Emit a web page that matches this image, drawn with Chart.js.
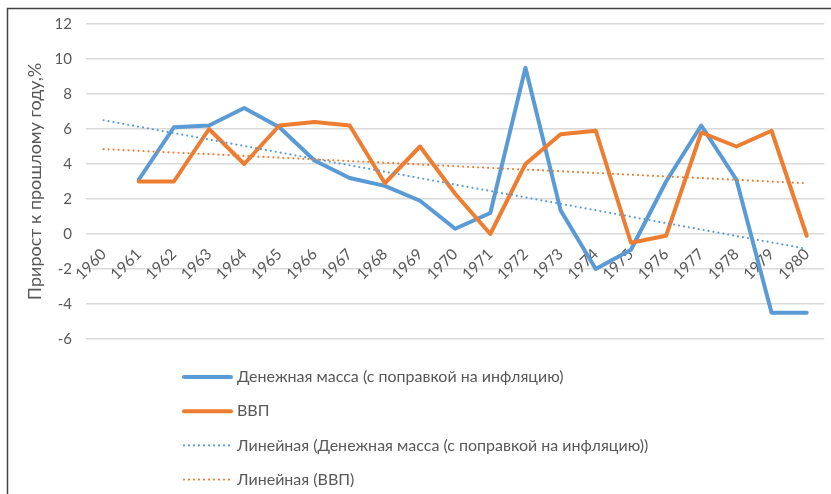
<!DOCTYPE html>
<html>
<head>
<meta charset="utf-8">
<script src="https://cdn.jsdelivr.net/npm/chart.js@4/dist/chart.umd.min.js"></script>
<style>
html,body{margin:0;padding:0;background:#fff;}
#wrap{width:831px;height:494px;position:relative;}
</style>
</head>
<body>
<div id="wrap"><canvas id="c" width="831" height="494"></canvas></div>
<script>
// ---- data ----
const years = ['1960','1961','1962','1963','1964','1965','1966','1967','1968','1969','1970',
               '1971','1972','1973','1974','1975','1976','1977','1978','1979','1980'];
const moneySupply = [null, 3.1, 6.1, 6.2, 7.2, 6.1, 4.2, 3.2, 2.75, 1.9, 0.3,
                     1.2, 9.5, 1.35, -2.0, -0.9, 3.0, 6.2, 3.1, -4.5, -4.5];
const gdp = [null, 3.0, 3.0, 6.0, 4.0, 6.2, 6.4, 6.2, 2.9, 5.0, 2.3,
             0.0, 4.0, 5.7, 5.9, -0.5, -0.1, 5.8, 5.0, 5.9, -0.1];
// trend lines: end points (straight lines between them)
const moneyTrend = [6.5, null, null, null, null, null, null, null, null, null, null,
                    null, null, null, null, null, null, null, null, null, -0.85];
const gdpTrend = [4.85, null, null, null, null, null, null, null, null, null, null,
                  null, null, null, null, null, null, null, null, null, 2.9];
const seriesNames = [
  'Денежная масса (с поправкой на инфляцию)',
  'ВВП',
  'Линейная (Денежная масса (с поправкой на инфляцию))',
  'Линейная (ВВП)'
];
const yMin = -6, yMax = 12, yStep = 2;
const yTitle = 'Прирост к прошлому году,%';

const BLUE = '#5B9BD5', ORANGE = '#ED7D31', TXT = '#595959';
const FONT = 'Lato';

const framePlugin = {
  id: 'frame',
  beforeDraw(chart) {
    const ctx = chart.ctx;
    ctx.save();
    ctx.fillStyle = '#fff';
    ctx.fillRect(0, 0, chart.width, chart.height);
    ctx.strokeStyle = '#404040';
    ctx.lineWidth = 1.5;
    ctx.beginPath();
    ctx.moveTo(7.5, chart.height);
    ctx.lineTo(7.5, 8.5);
    ctx.lineTo(chart.width, 8.5);
    ctx.stroke();
    ctx.restore();
  }
};

const legendPlugin = {
  id: 'vlegend',
  afterDraw(chart) {
    const ctx = chart.ctx;
    ctx.save();
    ctx.font = '16px ' + FONT;
    ctx.fillStyle = TXT;
    ctx.textBaseline = 'middle';
    ctx.textAlign = 'left';
    chart.data.datasets.forEach((ds, i) => {
      const y = 377 + i * 34.2;
      ctx.strokeStyle = ds.borderColor;
      ctx.lineWidth = ds.borderDash ? 2.2 : 4;
      ctx.lineCap = 'round';
      ctx.setLineDash(ds.borderDash || []);
      ctx.beginPath();
      ctx.moveTo(184, y);
      ctx.lineTo(231, y);
      ctx.stroke();
      ctx.setLineDash([]);
      ctx.fillText(ds.label, 237, y);
    });
    ctx.restore();
  }
};

new Chart(document.getElementById('c'), {
  type: 'line',
  data: {
    labels: years,
    datasets: [
      { label: seriesNames[0], data: moneySupply, borderColor: BLUE, backgroundColor: BLUE,
        borderWidth: 4, pointRadius: 0, tension: 0, borderJoinStyle: 'round', borderCapStyle: 'round', order: 4 },
      { label: seriesNames[1], data: gdp, borderColor: ORANGE, backgroundColor: ORANGE,
        borderWidth: 4, pointRadius: 0, tension: 0, borderJoinStyle: 'round', borderCapStyle: 'round', order: 3 },
      { label: seriesNames[2], data: moneyTrend, borderColor: BLUE, backgroundColor: BLUE,
        borderWidth: 2.2, borderDash: [0, 5], borderCapStyle: 'round', pointRadius: 0, spanGaps: true, order: 2 },
      { label: seriesNames[3], data: gdpTrend, borderColor: ORANGE, backgroundColor: ORANGE,
        borderWidth: 2.2, borderDash: [0, 5], borderCapStyle: 'round', pointRadius: 0, spanGaps: true, order: 1 }
    ]
  },
  options: {
    responsive: false,
    animation: false,
    devicePixelRatio: 1,
    layout: { padding: { left: 0, top: 24, right: 5, bottom: 155 } },
    plugins: { legend: { display: false }, tooltip: { enabled: false } },
    scales: {
      x: {
        type: 'category',
        position: { y: 0 },
        offset: true,
        grid: { display: false, drawTicks: false },
        border: { display: false },
        ticks: { autoSkip: false, minRotation: 45, maxRotation: 45, padding: 11,
                 color: TXT, font: { family: FONT, size: 15.5 } },
        afterFit(s) { s.height = 0; }
      },
      y: {
        min: yMin, max: yMax,
        grid: { color: '#d9d9d9', lineWidth: 1.5, drawTicks: false },
        border: { display: false },
        ticks: { stepSize: yStep, padding: 14, color: TXT, font: { family: FONT, size: 15 } },
        title: { display: true, text: yTitle, color: TXT, font: { family: FONT, size: 18 }, padding: { top: 24, bottom: 0 } },
        afterFit(s) { s.width = 86; }
      }
    }
  },
  plugins: [framePlugin, legendPlugin]
});
</script>
</body>
</html>
